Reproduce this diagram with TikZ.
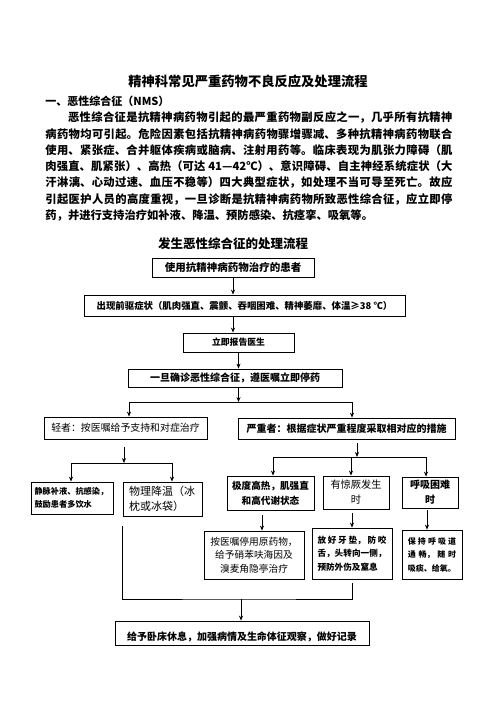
\documentclass[tikz,border=0pt]{standalone}
\usepackage{fontspec}
\setmainfont{Noto Sans CJK SC}
\usetikzlibrary{arrows.meta}
\XeTeXlinebreaklocale "zh"
\XeTeXlinebreakskip=0pt plus 1pt
\newcommand{\fsz}[2]{\fontsize{#1}{#2}\selectfont}

\begin{document}
\begin{tikzpicture}[x=1pt, y=-1pt, >={Stealth[length=5pt,width=4pt]}, line width=0.8pt,
    every node/.style={inner sep=0pt},
    box/.style={draw, align=center, inner sep=2pt}]
    \path[fill=white] (0,0) rectangle (496,702);

    % Headings and text
    \node (title) at (248,81) [font=\bfseries\fsz{13.3}{16}] {精神科常见严重药物不良反应及处理流程};
    \node (sec) at (45,101) [anchor=west, font=\bfseries\fsz{11}{14}] {一、恶性综合征（NMS）};
    \node (para) at (45,111.5) [anchor=north west, text width=407pt, align=justify, font=\bfseries\fsz{11.3}{16.3}] {\noindent\hspace*{2em}恶性综合征是抗精神病药物引起的最严重药物副反应之一，几乎所有抗精神\linebreak
病药物均可引起。危险因素包括抗精神病药物骤增骤减、多种抗精神病药物联合\linebreak
使用、紧张症、合并躯体疾病或脑病、注射用药等。临床表现为肌张力障碍（肌\linebreak
肉强直、肌紧张）、高热（可达 41—42℃）、意识障碍、自主神经系统症状（大\linebreak
汗淋漓、心动过速、血压不稳等）四大典型症状，如处理不当可导至死亡。故应\linebreak
引起医护人员的高度重视，一旦诊断是抗精神病药物所致恶性综合征，应立即停\linebreak
药，并进行支持治疗如补液、降温、预防感染、抗痉挛、吸氧等。};
    \node (flow) at (233,244) [font=\bfseries\fsz{12.5}{15}] {发生恶性综合征的处理流程};

    % Boxes of the flow
    \node (start) at (233,267.5) [box, minimum width=162pt, minimum height=19pt, font=\bfseries\fsz{10.5}{12}] {使用抗精神病药物治疗的患者};
    \node (pro) at (244.5,305.5) [box, minimum width=321pt, minimum height=21pt, font=\bfseries\fsz{9.4}{12}] {出现前驱症状（肌肉强直、震颤、吞咽困难、精神萎靡、体温≥38 ℃）};
    \node (rep) at (238.5,342.5) [box, minimum width=111pt, minimum height=19pt, font=\bfseries\fsz{8.8}{11}] {立即报告医生};
    \node (stop) at (235,378) [box, minimum width=214pt, minimum height=18pt, font=\bfseries\fsz{10}{12}] {一旦确诊恶性综合征，遵医嘱立即停药};
    \node (mild) at (125.5,428) [box, minimum width=163pt, minimum height=22pt, font=\fsz{9.9}{12}] {轻者：按医嘱给予支持和对症治疗};
    \node (sev) at (346.5,428.5) [box, minimum width=217pt, minimum height=21pt, font=\bfseries\fsz{10}{12}] {严重者：根据症状严重程度采取相对应的措施};
    \node (iv) at (72,498) [box, minimum width=82pt, minimum height=32pt, text width=75pt, align=left, font=\bfseries\fsz{8.2}{13.5}] {静脉补液、抗感染，\\鼓励患者多饮水};
    \node (cool) at (162.5,499) [box, minimum width=79pt, minimum height=34pt, text width=67pt, align=left, font=\fsz{11}{15}] {物理降温（冰\\枕或冰袋）};
    \node (hot) at (270.5,493) [box, minimum width=87pt, minimum height=34pt, font=\bfseries\fsz{9.6}{15}] {极度高热，肌强直\\和高代谢状态};
    \node (fit) at (356,492.5) [box, minimum width=66pt, minimum height=33pt, font=\fsz{10.2}{15}] {有惊厥发生\\时};
    \node (dys) at (430,492.5) [box, minimum width=56pt, minimum height=31pt, font=\bfseries\fsz{10}{15}] {呼吸困难\\时};
    \node (drug) at (254,555) [box, minimum width=100pt, minimum height=48pt, font=\fsz{9.7}{13.5}] {按医嘱停用原药物，\\给予硝苯呋海因及\\溴麦角隐亭治疗};
    \node (teeth) at (352,553.5) [box, minimum width=80pt, minimum height=51pt, text width=69pt, align=justify, font=\bfseries\fsz{8.6}{13.5}] {放好牙垫，防咬\linebreak 舌，头转向一侧，\linebreak 预防外伤及窒息};
    \node (air) at (432,554.5) [box, minimum width=60pt, minimum height=49pt, text width=48.5pt, align=justify, font=\bfseries\fsz{8}{13.5}] {保持呼吸道\linebreak 通畅，随时\linebreak 吸痰、给氧。};
    \node (rest) at (242,633) [box, minimum width=254pt, minimum height=24pt, text height=16pt, text depth=2pt, font=\bfseries\fsz{10}{12}] {给予卧床休息，加强病情及生命体征观察，做好记录};

    % Main chain
    \draw[->] (start) -- (start |- pro.north);
    \draw[->] (pro.south -| start) -- (rep.north -| start);
    \draw[->] (rep) -- (rep |- stop.north);
    \coordinate (split) at (238.5,402);
    \coordinate (splitL) at (129,402);
    \coordinate (splitR) at (352,402);
    \draw[->] (stop.south -| split) -- (split);
    \draw[<->] (mild.north -| splitL) -- (splitL) -- (splitR) -- (sev.north -| splitR);

    % Mild branch
    \coordinate (mj) at (124,463);
    \coordinate (mL) at (71,463);
    \coordinate (mR) at (172,463);
    \draw[->, shorten <=8pt] (mild.south -| mj) -- (mj);
    \draw[<->] (iv.north -| mL) -- (mL) -- (mR) -- (cool.north -| mR);

    % Severe branch
    \coordinate (sj) at (357,457);
    \coordinate (sL) at (273,457);
    \coordinate (sM) at (351,457);
    \coordinate (sR) at (426,457);
    \draw[->, shorten <=4pt] (sev.south -| sj) -- (sj);
    \draw[<->] (hot.north -| sL) -- (sL) -- (sR) -- (dys.north -| sR);
    \draw[->] (sM) -- (sM |- fit.north);
    \draw[->, shorten <=5pt] ([xshift=-8.5pt]hot.south) -- ([xshift=-8.5pt]hot.south |- drug.north);
    \draw[->, shorten <=4pt] (fit.south -| teeth) -- (teeth);
    \draw[->, shorten <=2pt] ([xshift=-3pt]dys.south) -- ([xshift=-3pt]dys.south |- air.north);

    % Joining to the last box
    \coordinate (jM) at (241,599);
    \draw[shorten <=10pt, shorten >=4pt] (cool.south west) |- (jM) -| (teeth.south);
    \draw[->] (jM) -- (jM |- rest.north);
\end{tikzpicture}
\end{document}
